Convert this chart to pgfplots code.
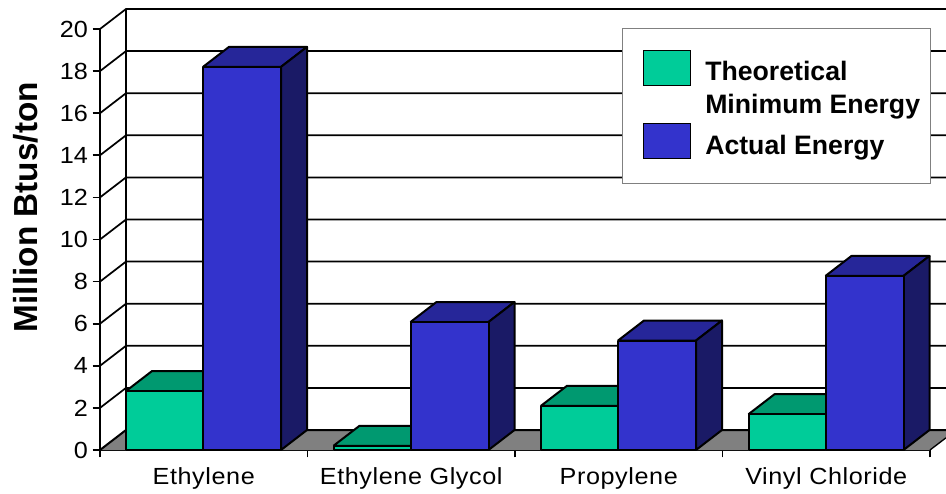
\documentclass[border=0pt]{standalone}
\usepackage{fontspec}
\setmainfont{Liberation Sans}
\newfontfamily\tickfont[FakeStretch=1.08]{Liberation Sans}
\newfontfamily\catfont[FakeStretch=1.08,LetterSpace=2.5]{Liberation Sans}
\usepackage{pgfplots}
\pgfplotsset{compat=1.18}

\definecolor{greenfront}{HTML}{00CC99}
\definecolor{greentop}{HTML}{009970}
\definecolor{greenside}{HTML}{006B4F}
\definecolor{bluefront}{HTML}{3333CC}
\definecolor{bluetop}{HTML}{262699}
\definecolor{blueside}{HTML}{1A1A66}
\definecolor{floorgray}{HTML}{808080}

% x in picture pixels, y in Million Btus/ton; depth is 26 px and 0.95 units
\newcommand{\drawbar}[6]{
    \pgfmathsetmacro{\xa}{#1+26}
    \pgfmathsetmacro{\xb}{#2+26}
    \pgfmathsetmacro{\yt}{#3+0.95}
    \addplot[forget plot,fill=#5,draw=black,bar line] coordinates {(#1,#3) (\xa,\yt) (\xb,\yt) (#2,#3) (#1,#3)};
    \addplot[forget plot,fill=#6,draw=black,bar line] coordinates {(#2,0) (\xb,0.95) (\xb,\yt) (#2,#3) (#2,0)};
    \addplot[forget plot,fill=#4,draw=black,bar line] coordinates {(#1,0) (#2,0) (#2,#3) (#1,#3) (#1,0)};
}
\newcommand{\gridat}[1]{
    \pgfmathsetmacro{\yt}{#1+0.95}
    \addplot[forget plot,black,line width=1.3pt] coordinates {(100,#1) (126,\yt) (946,\yt)};
}

\begin{document}
\begin{tikzpicture}
    \path[use as bounding box] (0,0) rectangle (709.5pt,369.75pt);
    \begin{axis}[
        at={(75pt,32.25pt)}, anchor=origin,
        scale only axis,
        width=622.5pt, height=315.75pt,
        xmin=100, xmax=930,
        ymin=0, ymax=20,
        clip=false,
        axis x line*=bottom,
        axis y line*=left,
        axis line style={-,line width=1.5pt},
        bar line/.style={line width=1.5pt,line join=round},
        xtick={100,307.5,515,722.5,930},
        xticklabels={},
        extra x ticks={203.75,411.25,618.75,826.25},
        extra x tick labels={Ethylene,Ethylene Glycol,Propylene,Vinyl Chloride},
        extra x tick style={major tick length=0pt},
        x tick label style={font=\catfont\fontsize{17.5}{20}\selectfont,yshift=-10pt},
        x tick style={black,line width=1.2pt},
        ytick={0,2,...,20},
        y tick label style={font=\tickfont\fontsize{17.5}{20}\selectfont,/pgf/number format/assume math mode=true},
        major tick length=5.5pt,
        y tick style={black,line width=1.2pt},
        tick align=outside,
        ylabel={\bfseries Million Btus/ton},
        ylabel style={font=\fontsize{25}{30}\selectfont,anchor=center,at={(axis description cs:-0.089,0.577)}},
        legend cell align=left,
        legend style={
            at={(0.6289,1.0024)}, anchor=north west,
            draw=gray, line width=0.8pt, fill=white,
            font=\bfseries\fontsize{20}{24.75}\selectfont,
            nodes={align=left},
            inner xsep=6pt, inner ysep=18.5pt,
            row sep=10.6pt,
        },
    ]
    % floor and back wall
    \addplot[forget plot,fill=floorgray,draw=none] coordinates {(100,0) (126,0.95) (946,0.95) (946,0.58) (930,0) (100,0)};
    \addplot[forget plot,black,line width=1.5pt] coordinates {(100,0) (126,0.95) (946,0.95)};
    \addplot[forget plot,black,line width=1pt] coordinates {(930,0) (946,0.58)};
    \addplot[forget plot,black,line width=1.5pt] coordinates {(126,0.95) (126,20.95)};
    \gridat{2}\gridat{4}\gridat{6}\gridat{8}\gridat{10}
    \gridat{12}\gridat{14}\gridat{16}\gridat{18}\gridat{20}

    % Ethylene
    \drawbar{126}{203}{2.8}{greenfront}{greentop}{greenside}
    \drawbar{203}{281}{18.2}{bluefront}{bluetop}{blueside}
    % Ethylene Glycol
    \drawbar{333.5}{410.5}{0.2}{greenfront}{greentop}{greenside}
    \drawbar{410.5}{488.5}{6.08}{bluefront}{bluetop}{blueside}
    % Propylene
    \drawbar{541}{618}{2.1}{greenfront}{greentop}{greenside}
    \drawbar{618}{696}{5.2}{bluefront}{bluetop}{blueside}
    % Vinyl Chloride
    \drawbar{748.5}{825.5}{1.7}{greenfront}{greentop}{greenside}
    \drawbar{825.5}{903.5}{8.27}{bluefront}{bluetop}{blueside}

    \addlegendimage{legend image code/.code={
        \draw[overlay,fill=greenfront,draw=black,line width=0.6pt] (9pt,2.25pt) rectangle (44.25pt,28.5pt);
        \path (0pt,26.1pt) (53.25pt,0pt);}}
    \addlegendentry{Theoretical\\Minimum Energy}
    \addlegendimage{legend image code/.code={
        \draw[overlay,fill=bluefront,draw=black,line width=0.6pt] (9pt,-9.25pt) rectangle (44.25pt,17pt);
        \path (0pt,0pt) (53.25pt,0pt);}}
    \addlegendentry{Actual Energy}
    \end{axis}
\end{tikzpicture}
\end{document}
